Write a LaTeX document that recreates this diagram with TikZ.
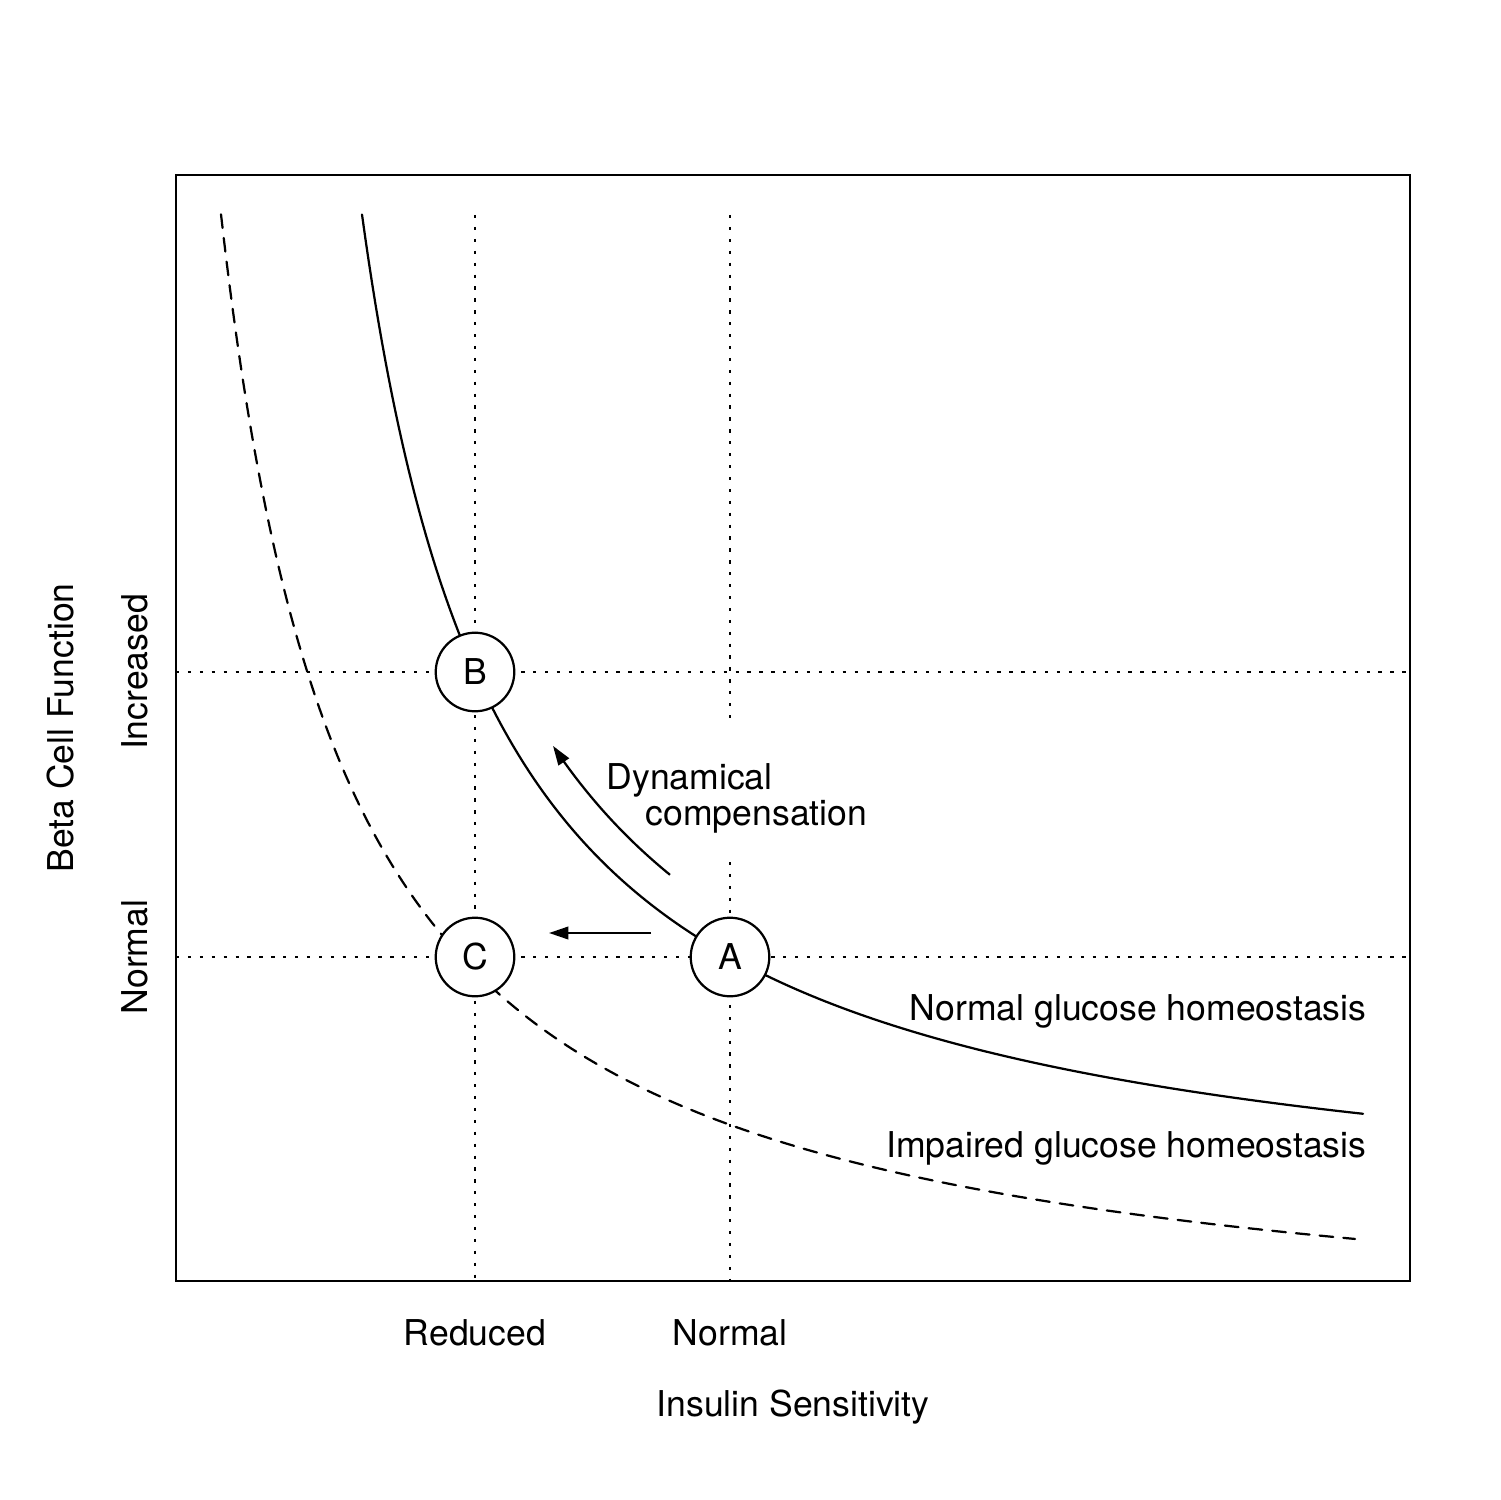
\documentclass[tikz,border=0pt]{standalone}
\usepackage{fontspec}
\setmainfont{TeX Gyre Heros}
\usetikzlibrary{arrows.meta}
\begin{document}
\begin{tikzpicture}[x=0.336bp,y=-0.336bp,
  lbl/.style={font=\fontsize{12}{14.4}\selectfont, inner sep=0pt},
  dotline/.style={line width=0.8bp, dash pattern=on 1.1bp off 2.9bp},
  solidcurve/.style={line width=0.75bp, line cap=round},
  dashcurve/.style={line width=0.75bp, dash pattern=on 4.6bp off 3.4bp, line cap=round},
  pointcirc/.style={circle, draw, fill=white, line width=0.75bp, minimum size=26.4bp, inner sep=0pt, font=\fontsize{12}{14.4}\selectfont},
  arrowline/.style={line width=0.75bp, -{Triangle[length=6.5bp, width=4.2bp]}}
]
\fill[white] (0,0) rectangle (1500,1500);
\useasboundingbox (0,0) rectangle (1500,1500);

% frame
\coordinate (fNW) at (176,175);
\coordinate (fSE) at (1410,1281);
\draw[line width=0.75bp] (fNW) rectangle (fSE);

% dotted guides
\coordinate (vr1) at (475,215);
\coordinate (vr2) at (475,1281);
\coordinate (vn1) at (730,215);
\coordinate (vn2) at (730,722);
\coordinate (vn3) at (730,862);
\coordinate (vn4) at (730,1281);
\coordinate (hi1) at (176,672);
\coordinate (hi2) at (1410,672);
\coordinate (hn1) at (176,957);
\coordinate (hn2) at (1410,957);
\draw[dotline] (vr1) -- (vr2);
\draw[dotline] (vn1) -- (vn2);
\draw[dotline] (vn3) -- (vn4);
\draw[dotline] (hi1) -- (hi2);
\draw[dotline] (hn1) -- (hn2);

% curves
\draw[solidcurve] plot[domain=362:1363, samples=300] (\x, {1240 - 1440/((\x-221.5)*0.01)});
\draw[dashcurve] plot[domain=221:1355, samples=400] (\x, {1355.4 - 1470/((\x-92.1)*0.01)});

% arrows
\draw[arrowline] plot[domain=670:553, samples=60] (\x, {1240 - 1637/((\x-221.5)*0.01)});
\coordinate (sa1) at (651,933);
\coordinate (sa2) at (549,933);
\draw[arrowline] (sa1) -- (sa2);

% points
\node[pointcirc] (B) at (475,672) {B};
\node[pointcirc] (C) at (475,957) {C};
\node[pointcirc] (A) at (730,957) {A};

% texts
\node[lbl, anchor=base west] (dyn1) at (606,789) {Dynamical};
\node[lbl, anchor=base west] (dyn2) at (645,825) {compensation};
\node[lbl, anchor=base east] (ngh) at (1367,1020) {Normal glucose homeostasis};
\node[lbl, anchor=base east] (igh) at (1367,1157) {Impaired glucose homeostasis};
\node[lbl, anchor=base] (xred) at (475,1345) {Reduced};
\node[lbl, anchor=base] (xnor) at (730,1345) {Normal};
\node[lbl, anchor=base] (xlab) at (793,1416) {Insulin Sensitivity};
\node[lbl, anchor=base, rotate=90] (ylab) at (73,728) {Beta Cell Function};
\node[lbl, anchor=base, rotate=90] (yinc) at (147,672) {Increased};
\node[lbl, anchor=base, rotate=90] (ynor) at (147,957) {Normal};
\end{tikzpicture}
\end{document}
